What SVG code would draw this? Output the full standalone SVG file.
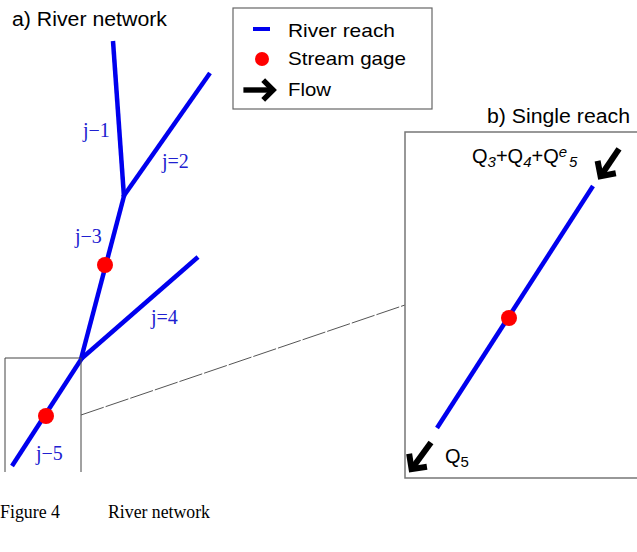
<svg xmlns="http://www.w3.org/2000/svg" xmlns:xlink="http://www.w3.org/1999/xlink" width="637" height="552" viewBox="0 0 637 552">
<style>
.reach{stroke:#0000ee;stroke-width:4.5;stroke-linecap:butt;fill:none}
.gage{fill:#ff0000}
.lbl{font-family:"Liberation Serif",serif;font-size:20px;fill:#2020d0}
.sans{font-family:"Liberation Sans",Arial,sans-serif;fill:#000}
.box{fill:none;stroke:#666;stroke-width:1.2}
</style>
<defs>
<g id="arr">
<path d="M-34,0 L-3,0" stroke="#000" stroke-width="6" fill="none"/>
<path d="M-12,-11 L-1,0 L-12,11" stroke="#000" stroke-width="6" fill="none" stroke-linejoin="miter"/>
</g>
</defs>
<rect width="637" height="552" fill="#fff"/>

<g id="title-a"><text class="sans" x="12" y="26" font-size="20" textLength="155" lengthAdjust="spacingAndGlyphs">a) River network</text></g>

<g id="legend">
<rect class="box" x="233" y="8" width="199" height="101"/>
<line x1="253" y1="29" x2="270" y2="29" stroke="#0000ee" stroke-width="4"/>
<text class="sans" x="288" y="37" font-size="19" textLength="107" lengthAdjust="spacingAndGlyphs">River reach</text>
<circle class="gage" cx="262" cy="59" r="7"/>
<text class="sans" x="288" y="65" font-size="19" textLength="118" lengthAdjust="spacingAndGlyphs">Stream gage</text>
<use xlink:href="#arr" transform="translate(274,90) scale(0.9)"/>
<text class="sans" x="288" y="96" font-size="19" textLength="43" lengthAdjust="spacingAndGlyphs">Flow</text>
</g>

<g id="network">
<line class="reach" x1="113" y1="41" x2="124" y2="197"/>
<line class="reach" x1="210" y1="73" x2="123" y2="197"/>
<line class="reach" x1="124" y1="196" x2="81" y2="359"/>
<line class="reach" x1="198" y1="257" x2="81" y2="359"/>
<line class="reach" x1="82" y1="358" x2="12" y2="466"/>
</g>
<g id="gage-3"><circle class="gage" cx="105" cy="265" r="8"/></g>
<g id="gage-5"><circle class="gage" cx="46" cy="416" r="8"/></g>
<g id="labels">
<text class="lbl" x="83" y="137">j−1</text>
<text class="lbl" x="162" y="168">j=2</text>
<text class="lbl" x="75" y="243">j−3</text>
<text class="lbl" x="151" y="324">j=4</text>
<text class="lbl" x="36" y="460">j−5</text>
</g>

<g id="zoom-box"><path d="M5,472 L5,358 L81,358 L81,472" fill="none" stroke="#444" stroke-width="1"/></g>
<g id="connectors"><line x1="81" y1="415" x2="405" y2="305" stroke="#555" stroke-width="1" stroke-dasharray="24 2"/></g>

<g id="title-b"><text class="sans" x="487" y="123" font-size="20" textLength="143" lengthAdjust="spacingAndGlyphs">b) Single reach</text></g>
<g id="panel-b">
<path d="M637,132 L405,132 L405,478 L637,478" fill="none" stroke="#777" stroke-width="1.5"/>
<line class="reach" x1="593" y1="186" x2="437" y2="428"/>
<circle class="gage" cx="509" cy="318" r="8"/>
<use xlink:href="#arr" transform="translate(600,177) rotate(124)"/>
<use xlink:href="#arr" transform="translate(411,470) rotate(126)"/>
<text class="sans" x="472" y="163" font-size="20">Q<tspan font-size="15" font-style="italic" dy="4">3</tspan><tspan dy="-4">+Q</tspan><tspan font-size="15" font-style="italic" dy="4">4</tspan><tspan dy="-4">+Q</tspan><tspan font-size="15" font-style="italic" dy="-6">e</tspan><tspan font-size="15" font-style="italic" dx="2" dy="10">5</tspan></text>
<text class="sans" x="445" y="463" font-size="20">Q<tspan font-size="15" dy="4">5</tspan></text>
</g>

<g id="caption">
<text x="0" y="518" font-family="Liberation Serif,serif" font-size="18" textLength="60" lengthAdjust="spacingAndGlyphs">Figure 4</text>
<text x="108" y="518" font-family="Liberation Serif,serif" font-size="18" textLength="102" lengthAdjust="spacingAndGlyphs">River network</text>
</g>
</svg>
